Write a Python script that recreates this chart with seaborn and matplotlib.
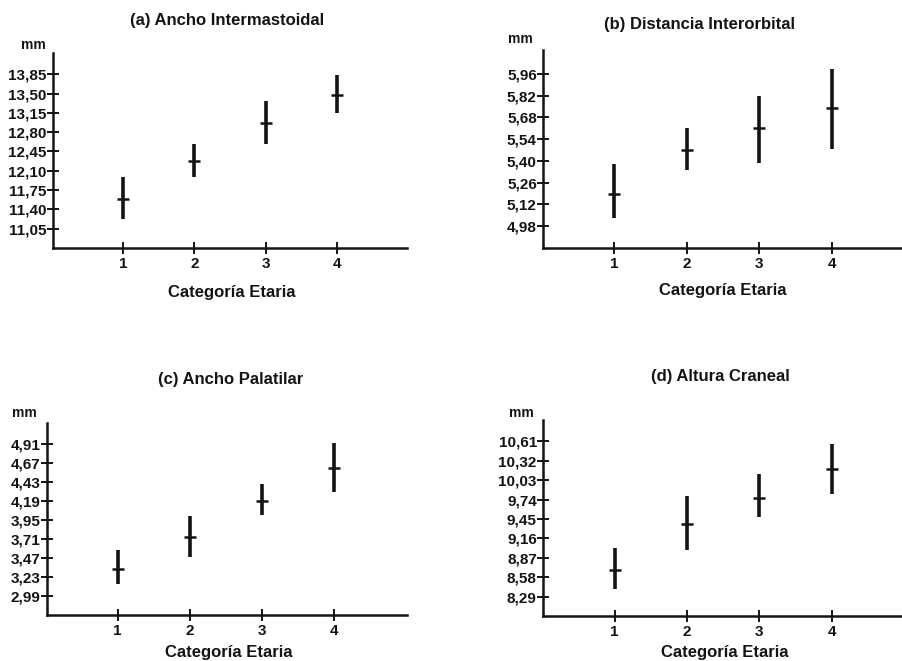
import matplotlib
matplotlib.use("Agg")
import matplotlib.pyplot as plt
import pandas as pd
import seaborn as sns

# Categoría etaria (x)
categorias = [1, 2, 3, 4]

# (a) Ancho Intermastoidal
inter_min = [11.23, 11.98, 12.58, 13.15]
inter_media = [11.59, 12.27, 12.97, 13.48]
inter_max = [11.98, 12.58, 13.36, 13.84]
inter_ticks = [11.05, 11.40, 11.75, 12.10, 12.45, 12.80, 13.15, 13.50, 13.85]

# (b) Distancia Interorbital
orb_min = [5.03, 5.34, 5.39, 5.48]
orb_media = [5.19, 5.47, 5.61, 5.74]
orb_max = [5.38, 5.61, 5.82, 5.99]
orb_ticks = [4.98, 5.12, 5.26, 5.40, 5.54, 5.68, 5.82, 5.96]

# (c) Ancho Palatilar
pal_min = [3.14, 3.48, 4.01, 4.30]
pal_media = [3.33, 3.73, 4.19, 4.60]
pal_max = [3.57, 4.00, 4.41, 4.92]
pal_ticks = [2.99, 3.23, 3.47, 3.71, 3.95, 4.19, 4.43, 4.67, 4.91]

# (d) Altura Craneal
cra_min = [8.40, 8.99, 9.48, 9.82]
cra_media = [8.68, 9.37, 9.77, 10.19]
cra_max = [9.01, 9.80, 10.12, 10.57]
cra_ticks = [8.29, 8.58, 8.87, 9.16, 9.45, 9.74, 10.03, 10.32, 10.61]

titulos = ["(a) Ancho Intermastoidal", "(b) Distancia Interorbital",
           "(c) Ancho Palatilar", "(d) Altura Craneal"]

sns.set_theme(style="white")
plt.rcParams["font.family"] = ["Liberation Sans", "DejaVu Sans"]
plt.rcParams["font.weight"] = "bold"

W, H = 902, 661
fig = plt.figure(figsize=(W / 100, H / 100), dpi=100)
fig.patch.set_facecolor("white")

# pixel boxes: left, top, right, bottom
cajas = [
    (53, 53, 407, 248),
    (543, 50, 902, 248),
    (47, 423, 407, 615),
    (543, 420, 902, 616),
]
xlims = [(0.02, 4.98), (0.02, 4.97), (0.02, 5.01), (0.01, 4.97)]
titulo_pos = [(227, 20), (699, 25), (231, 380), (720, 377)]
mm_pos = [(33, 45), (520, 39), (24, 413), (521, 413)]
xlab_pos = [(232, 292), (723, 290), (229, 653), (725, 653)]

series = [
    (inter_min, inter_media, inter_max, inter_ticks),
    (orb_min, orb_media, orb_max, orb_ticks),
    (pal_min, pal_media, pal_max, pal_ticks),
    (cra_min, cra_media, cra_max, cra_ticks),
]

for i, (vmin, vmed, vmax, ticks) in enumerate(series):
    l, t, r, b = cajas[i]
    ax = fig.add_axes([l / W, 1 - b / H, (r - l) / W, (b - t) / H])
    df = pd.DataFrame({"cat": categorias, "min": vmin, "media": vmed, "max": vmax})

    ax.vlines(df["cat"], df["min"], df["max"], color="#141414", linewidth=2.6)
    sns.scatterplot(data=df, x="cat", y="media", marker="_", s=75,
                    color="#141414", linewidth=1.8, ax=ax, zorder=3)

    paso = ticks[1] - ticks[0]
    ax.set_ylim(ticks[0] - paso, ticks[-1] + paso * 1.1)
    ax.set_xlim(*xlims[i])
    ax.set_yticks(ticks)
    ax.set_yticklabels([f"{v:.2f}".replace(".", ",") for v in ticks])
    ax.set_xticks(categorias)
    ax.set_xticklabels([str(c) for c in categorias])
    ax.set_xlabel("")
    ax.set_ylabel("")

    for lado in ["top", "right"]:
        ax.spines[lado].set_visible(False)
    for lado in ["left", "bottom"]:
        ax.spines[lado].set_color("#141414")
        ax.spines[lado].set_linewidth(1.8)
    ax.tick_params(axis="both", direction="inout", length=9, width=1.4,
                   color="#141414", labelsize=11, labelcolor="#141414", pad=0,
                   left=True, bottom=True)
    ax.tick_params(axis="x", pad=2)
    ax.patch.set_alpha(0)

    tx, ty = titulo_pos[i]
    fig.text(tx / W, 1 - ty / H, titulos[i], ha="center", va="center",
             fontsize=12, fontweight="bold", color="#141414")
    mx, my = mm_pos[i]
    fig.text(mx / W, 1 - my / H, "mm", ha="center", va="center",
             fontsize=10, fontweight="bold", color="#141414")
    lx, ly = xlab_pos[i]
    fig.text(lx / W, 1 - ly / H, "Categoría Etaria", ha="center", va="center",
             fontsize=12, fontweight="bold", color="#141414")

fig.savefig("out.png", dpi=100, facecolor="white")
plt.close(fig)
